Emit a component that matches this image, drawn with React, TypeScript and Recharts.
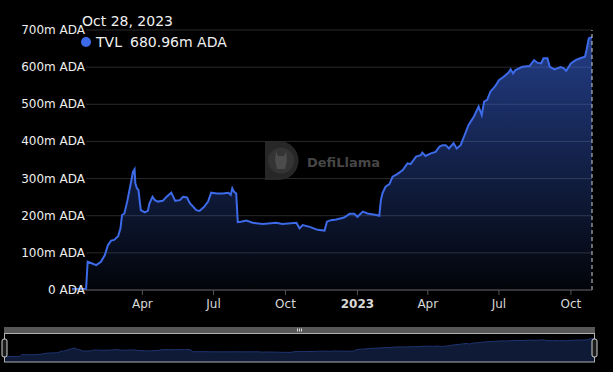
import React from 'react';
import { ComposedChart, AreaChart, Area, XAxis, YAxis, CartesianGrid, ReferenceLine } from 'recharts';

const dates = [
  '2022-01-01','2022-01-19','2022-01-21','2022-01-26','2022-02-01','2022-02-07','2022-02-12','2022-02-16','2022-02-20','2022-02-24',
  '2022-03-01','2022-03-04','2022-03-06','2022-03-09','2022-03-13','2022-03-18','2022-03-20','2022-03-22','2022-03-23','2022-03-25',
  '2022-03-27','2022-03-30','2022-04-04','2022-04-08','2022-04-10','2022-04-14','2022-04-17','2022-04-21','2022-04-27','2022-05-02',
  '2022-05-08','2022-05-13','2022-05-19','2022-05-23','2022-05-28','2022-06-01','2022-06-09','2022-06-13','2022-06-19','2022-06-24',
  '2022-06-28','2022-07-05','2022-07-13','2022-07-20','2022-07-23','2022-07-25','2022-07-27','2022-07-30','2022-08-01','2022-08-05',
  '2022-08-12','2022-08-20','2022-09-02','2022-09-19','2022-09-27','2022-10-15','2022-10-19','2022-10-23','2022-11-01','2022-11-11',
  '2022-11-20','2022-11-23','2022-11-28','2022-12-05','2022-12-15','2022-12-22','2022-12-28','2023-01-01','2023-01-08','2023-01-14',
  '2023-01-25','2023-01-29','2023-01-31','2023-02-02','2023-02-06','2023-02-11','2023-02-15','2023-02-21','2023-02-28','2023-03-06',
  '2023-03-10','2023-03-17','2023-03-23','2023-03-25','2023-03-29','2023-04-05','2023-04-11','2023-04-16','2023-04-20','2023-04-24',
  '2023-04-28','2023-05-04','2023-05-08','2023-05-13','2023-05-19','2023-05-23','2023-05-30','2023-06-05','2023-06-09','2023-06-12',
  '2023-06-16','2023-06-20','2023-06-26','2023-07-01','2023-07-07','2023-07-13','2023-07-16','2023-07-19','2023-07-22','2023-07-31',
  '2023-08-09','2023-08-15','2023-08-19','2023-08-24','2023-08-27','2023-09-01','2023-09-04','2023-09-10','2023-09-18','2023-09-22',
  '2023-09-25','2023-10-01','2023-10-07','2023-10-13','2023-10-19','2023-10-21','2023-10-24','2023-10-28',
];

const tvl = [
  2.5, 2.5, 76, 72, 67, 76, 94, 121, 133, 135,
  145, 166, 202, 206, 242, 296, 318, 325, 287, 274,
  269, 215, 209, 213, 233, 251, 242, 238, 240, 251,
  262, 240, 242, 251, 249, 233, 215, 213, 224, 238,
  262, 260, 260, 262, 256, 274, 265, 260, 183, 184,
  187, 181, 178, 181, 178, 181, 166, 175, 170, 162,
  160, 184, 188, 190, 195, 205, 205, 197, 211, 206,
  202, 200, 242, 260, 278, 285, 305, 312, 323, 341,
  339, 359, 363, 370, 361, 368, 372, 386, 390, 390,
  381, 395, 381, 390, 422, 444, 467, 494, 471, 507,
  512, 534, 548, 565, 574, 585, 594, 583, 592, 601,
  603, 619, 612, 610, 624, 624, 601, 594, 600, 597,
  590, 610, 619, 624, 628, 646, 678, 680.96,
];

const xTickDates = ['2022-04-01', '2022-07-01', '2022-10-01', '2023-01-01', '2023-04-01', '2023-07-01', '2023-10-01'];
const xTickLabels = ['Apr', 'Jul', 'Oct', '2023', 'Apr', 'Jul', 'Oct'];
const boldTickLabels = ['2023'];
const yTicks = [0, 100, 200, 300, 400, 500, 600, 700];

const headerDate = 'Oct 28, 2023';
const seriesName = 'TVL';
const headerValue = '680.96m ADA';
const watermark = 'DefiLlama';

const toTs = (s: string) => {
  const [y, m, d] = s.split('-').map(Number);
  return Date.UTC(y, m - 1, d);
};

const data = dates.map((d, i) => ({ t: toTs(d), v: tvl[i] }));
const xTicks = xTickDates.map(toTs);
const tMin = data[0].t;
const tMax = data[data.length - 1].t;
const vMin = Math.min(...tvl);
const vMax = Math.max(...tvl);
const pad = (vMax - vMin) * 0.3;

const FONT = '"DejaVu Sans", sans-serif';
const LINE = '#3d6ae8';

const XTick = (props: any) => {
  const { x, y, payload } = props;
  const idx = xTicks.indexOf(payload.value);
  const label = idx >= 0 ? xTickLabels[idx] : '';
  const bold = boldTickLabels.includes(label);
  return (
    <text x={x} y={y} dy="0.71em" textAnchor="middle" fontSize={12} fontFamily={FONT} fill="#d8d8d8" fontWeight={bold ? 'bold' : 'normal'}>
      {label}
    </text>
  );
};

const YTick = (props: any) => {
  const { x, y, payload } = props;
  const label = payload.value === 0 ? '0 ADA' : `${payload.value}m ADA`;
  return (
    <text x={x + 13} y={y} dy={4} textAnchor="end" fontSize={12} fontFamily={FONT} fill="#eeeeee">
      {label}
    </text>
  );
};

const GridLine = (props: any) => {
  const { x1, x2, y1, y2 } = props;
  return <line x1={x1 + 14} x2={x2} y1={y1} y2={y2} stroke="#2a2a2a" strokeWidth={1} />;
};

export default function App() {
  return (
    <div style={{ position: 'fixed', left: 0, top: 0, width: 613, height: 372, background: '#000', overflow: 'hidden' }}>
      <div style={{ position: 'absolute', left: 0, top: 0 }}>
        <ComposedChart width={613} height={320} data={data} margin={{ top: 30, right: 21, bottom: 0, left: 0 }}>
          <defs>
            <linearGradient id="tvlFill" x1="0" y1="0" x2="0" y2="1">
              <stop offset="0%" stopColor={LINE} stopOpacity={0.58} />
              <stop offset="100%" stopColor={LINE} stopOpacity={0.04} />
            </linearGradient>
          </defs>
          <CartesianGrid vertical={false} horizontal={GridLine} />
          <XAxis
            dataKey="t"
            type="number"
            domain={[tMin, tMax]}
            ticks={xTicks}
            interval={0}
            height={30}
            tick={<XTick />}
            tickSize={5}
            tickMargin={4}
            axisLine={{ stroke: '#555' }}
            tickLine={{ stroke: '#555' }}
          />
          <YAxis
            type="number"
            domain={[0, 700]}
            ticks={yTicks}
            interval={0}
            width={72}
            axisLine={false}
            tickLine={false}
            tickSize={0}
            tickMargin={0}
            tick={<YTick />}
          />
          <Area
            type="linear"
            dataKey="v"
            stroke={LINE}
            strokeWidth={2}
            fill="url(#tvlFill)"
            fillOpacity={1}
            dot={false}
            activeDot={false}
            isAnimationActive={false}
          />
          <ReferenceLine x={tMax} stroke="#d0d0d0" strokeDasharray="4 3" strokeWidth={1} />
        </ComposedChart>
      </div>

      <div style={{ position: 'absolute', left: 4, top: 333 }}>
        <AreaChart width={591} height={29} data={data} margin={{ top: 0, right: 0, bottom: 0, left: 0 }}>
          <XAxis dataKey="t" type="number" domain={[tMin, tMax]} hide />
          <YAxis type="number" domain={[vMin - pad, vMax + pad]} hide />
          <Area
            type="linear"
            dataKey="v"
            baseValue="dataMin"
            stroke="#1f3470"
            strokeWidth={1}
            fill="#0e1a36"
            fillOpacity={1}
            dot={false}
            activeDot={false}
            isAnimationActive={false}
          />
        </AreaChart>
      </div>

      <svg width={613} height={372} style={{ position: 'absolute', left: 0, top: 0, pointerEvents: 'none' }}>
        {/* watermark */}
        <g opacity={0.9}>
          <path d="M265,141 h14 a19.5,19.5 0 0 1 0,39 h-14 z" fill="#2c2c2c" />
          <circle cx={281} cy={160.5} r={13} fill="#3a3a3a" />
          <path d="M276,151 l2,5 h6 l2,-5 l1,9 l-2,9 h-8 l-2,-9 z" fill="#555" />
          <text x={307} y={167} fontSize={13} fontWeight="bold" fontFamily={FONT} fill="#4e4e4e">{watermark}</text>
        </g>

        {/* header */}
        <text x={82} y={26} fontSize={14} fontFamily={FONT} fill="#f0f0f0">{headerDate}</text>
        <circle cx={86} cy={42} r={5} fill={LINE} />
        <text x={96} y={47} fontSize={14} fontFamily={FONT} fill="#f0f0f0">{seriesName}</text>
        <text x={130} y={47} fontSize={14} fontFamily={FONT} fill="#f0f0f0">{headerValue}</text>

        {/* slider decorations */}
        <rect x={4} y={327} width={591} height={6} fill="#575757" />
        <rect x={297} y={328.5} width={1} height={3} fill="#ddd" />
        <rect x={299} y={328.5} width={1} height={3} fill="#ddd" />
        <rect x={301} y={328.5} width={1} height={3} fill="#ddd" />
        <rect x={4.5} y={333.5} width={590} height={28.5} fill="none" stroke="#b0b0b0" strokeWidth={1} />
        <rect x={2} y={339} width={5} height={18} rx={2} fill="#1a1a1a" stroke="#d0d0d0" strokeWidth={1} />
        <rect x={592} y={339} width={5} height={18} rx={2} fill="#1a1a1a" stroke="#d0d0d0" strokeWidth={1} />
      </svg>
    </div>
  );
}
